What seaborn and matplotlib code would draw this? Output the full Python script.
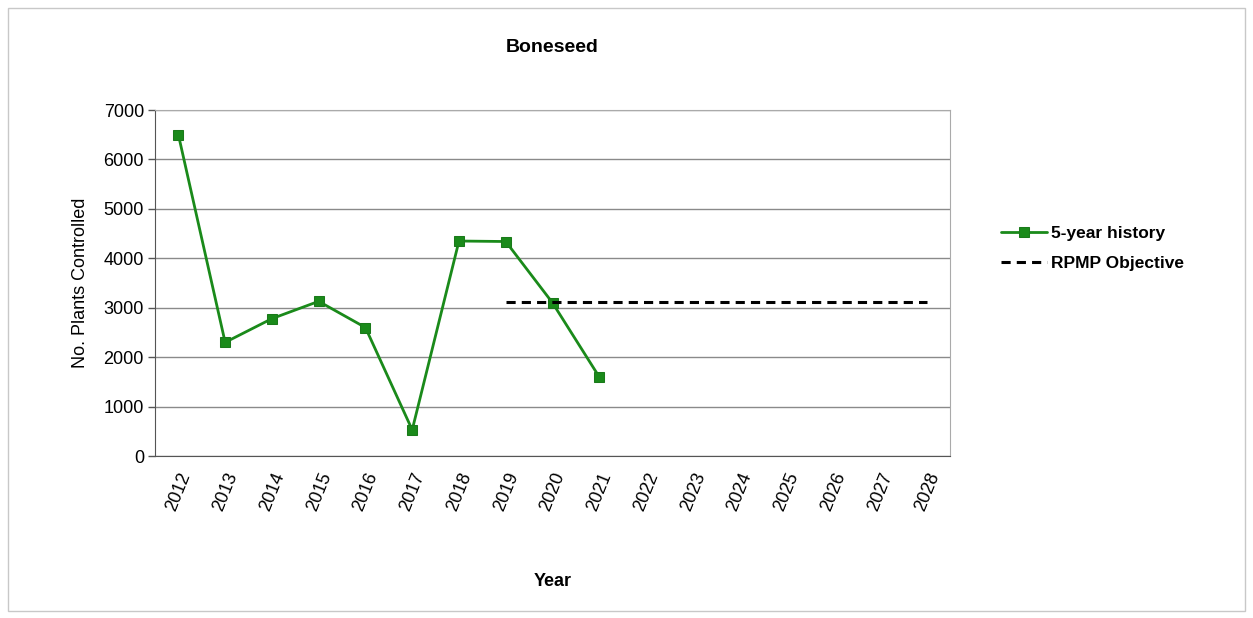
import matplotlib
matplotlib.use("Agg")
import matplotlib.pyplot as plt
import matplotlib.patches as patches
import numpy as np
import pandas as pd
import seaborn as sns

# Data
years = list(range(2012, 2029))
history_years = [2012, 2013, 2014, 2015, 2016, 2017, 2018, 2019, 2020, 2021]
history_values = [6500, 2300, 2780, 3130, 2600, 530, 4350, 4340, 3100, 1600]
objective_years = [2019, 2028]
objective_values = [3125, 3125]

df_hist = pd.DataFrame({"year": history_years, "value": history_values})
df_obj = pd.DataFrame({"year": objective_years, "value": objective_values})

sns.set_style("white")
plt.rcParams["font.family"] = ["Liberation Sans", "DejaVu Sans"]
plt.rcParams["text.color"] = "black"
plt.rcParams["axes.labelcolor"] = "black"
plt.rcParams["xtick.color"] = "black"
plt.rcParams["ytick.color"] = "black"

fig = plt.figure(figsize=(12.53, 6.18), dpi=100)
ax = fig.add_axes([0.1237, 0.262, 0.6345, 0.560])

# Outer frame of the chart
fig.patches.append(patches.Rectangle((0.006, 0.012), 0.988, 0.975, transform=fig.transFigure,
                                     fill=False, edgecolor="#c8c8c8", linewidth=1))

sns.lineplot(data=df_hist, x="year", y="value", ax=ax, color="#1a8a1a", linewidth=2,
             marker="s", markersize=6.5, markeredgecolor="#1a7a1a", label="5-year history")
sns.lineplot(data=df_obj, x="year", y="value", ax=ax, color="black", linewidth=2.2,
             linestyle=(0, (3, 2)), label="RPMP Objective")

ax.set_xlim(2011.5, 2028.5)
ax.set_ylim(0, 7000)
ax.set_yticks(np.arange(0, 7001, 1000))
ax.yaxis.grid(True, color="#8a8a8a", linewidth=1)
ax.xaxis.grid(False)

ax.set_xticks(years)
ax.set_xticklabels([str(y) for y in years], rotation=68, ha="right", rotation_mode="anchor",
                   fontsize=13)
ax.set_xticks(np.arange(2011.5, 2029, 1), minor=True)
ax.tick_params(axis="x", which="major", length=0, pad=10)
ax.tick_params(axis="x", which="minor", length=5, color="#555555", width=1, direction="out")
ax.tick_params(axis="y", length=5, color="#555555", width=1, direction="out", labelsize=13, pad=3)
ax.tick_params(axis="both", bottom=True, left=True)

for side in ["top", "right", "bottom", "left"]:
    ax.spines[side].set_visible(True)
ax.spines["top"].set_color("#aaaaaa")
ax.spines["right"].set_color("#aaaaaa")
ax.spines["bottom"].set_color("#555555")
ax.spines["left"].set_color("#555555")

ax.set_title("Boneseed", fontsize=14, fontweight="bold", pad=42)
ax.set_ylabel("No. Plants Controlled", fontsize=13, labelpad=10)
ax.set_xlabel("Year", fontsize=13, fontweight="bold", labelpad=43)

leg = ax.legend(loc="center left", bbox_to_anchor=(1.045, 0.60), frameon=False,
                fontsize=12.5, handlelength=2.6, handletextpad=0.25, labelspacing=0.9)
for t in leg.get_texts():
    t.set_fontweight("bold")

fig.savefig("out.png", dpi=100)
